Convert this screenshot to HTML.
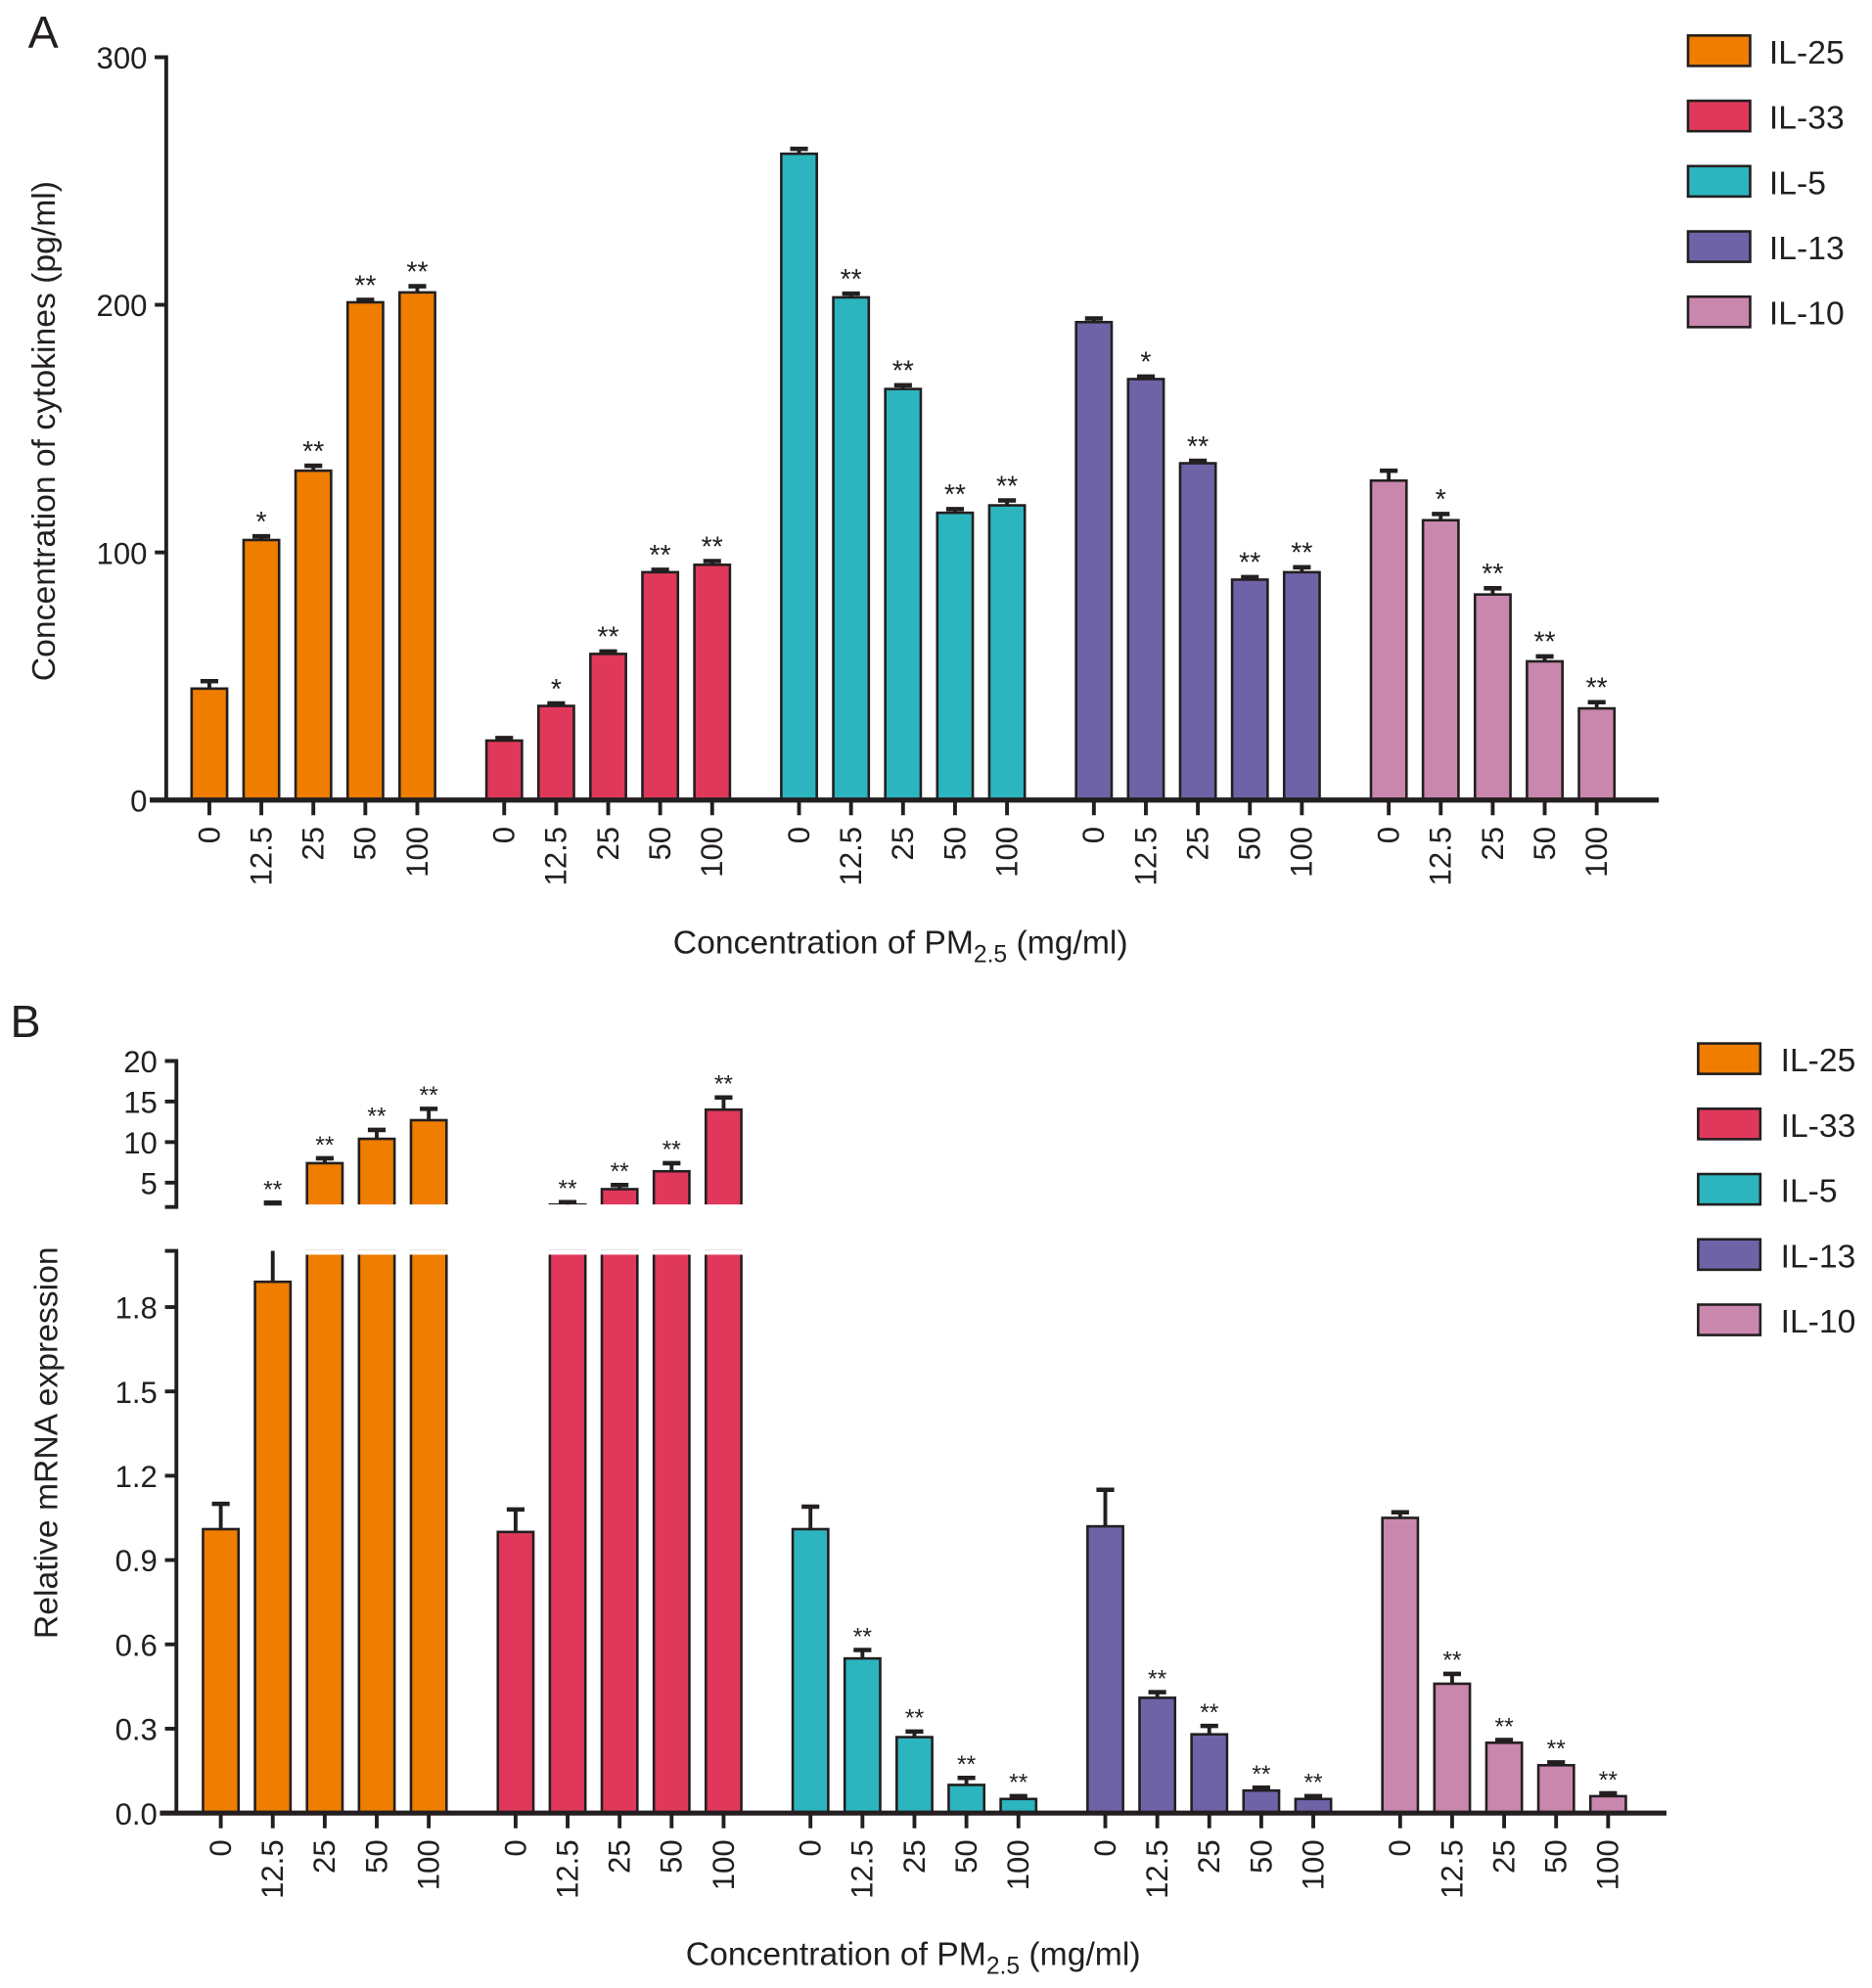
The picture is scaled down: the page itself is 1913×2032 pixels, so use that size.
<!DOCTYPE html>
<html><head><meta charset="utf-8"><style>
html,body{margin:0;padding:0;background:#fff}
svg{display:block}
text{font-family:"Liberation Sans",Arial,sans-serif;fill:#231f20}
</style></head><body>
<svg id="fig" width="1913" height="2032" viewBox="0 0 1476 1568" xmlns="http://www.w3.org/2000/svg"></svg>
<script>
const NS="http://www.w3.org/2000/svg";
const series=["IL-25","IL-33","IL-5","IL-13","IL-10"];
const colors=["#ee7d00","#e0385b","#2db5bf","#6f63a8","#c987ad"];
const doses=["0","12.5","25","50","100"];
// Panel A values (pg/ml)
const aIL25=[45,105,133,201,205];
const aIL33=[24,38,59,92,95];
const aIL5=[261,203,166,116,119];
const aIL13=[193,170,136,89,92];
const aIL10=[129,113,83,56,37];
const aErr25=[3,1.5,2,1,2.5];
const aErr33=[1,1,1,1,1.5];
const aErr5=[2,1.5,1.5,1.5,2];
const aErr13=[1.5,1,1,1,2];
const aErr10=[4,2.5,2.5,2,2.5];
const aStars25=["","*","**","**","**"];
const aStars33=["","*","**","**","**"];
const aStars5=["","**","**","**","**"];
const aStars13=["","*","**","**","**"];
const aStars10=["","*","**","**","**"];
const aTicks=[0,100,200,300];
// Panel B values (relative mRNA)
const bIL25=[1.01,1.89,7.4,10.4,12.7];
const bIL33=[1.0,2.3,4.2,6.4,14.0];
const bIL5=[1.01,0.55,0.27,0.10,0.05];
const bIL13=[1.02,0.41,0.28,0.08,0.05];
const bIL10=[1.05,0.46,0.25,0.17,0.06];
const bErr25=[0.09,0.6,0.6,1.1,1.4];
const bErr33=[0.08,0.3,0.5,1.0,1.5];
const bErr5=[0.08,0.03,0.02,0.025,0.01];
const bErr13=[0.13,0.02,0.03,0.01,0.01];
const bErr10=[0.02,0.035,0.01,0.01,0.01];
const bStars=["","**","**","**","**"];
const bTicksLow=["0.0","0.3","0.6","0.9","1.2","1.5","1.8"];
const bTicksHigh=[5,10,15,20];

const svg=document.getElementById('fig');
function el(tag,attrs,parent){const e=document.createElementNS(NS,tag);for(const k in attrs)e.setAttribute(k,attrs[k]);(parent||svg).appendChild(e);return e;}
function txt(s,attrs,parent){const t=el('text',attrs,parent);t.textContent=s;return t;}

function barX(g,i,x0){return x0+g*232.5+i*41;}

function drawPanelA(){
  const g0=el('g',{});
  
  
  const y=v=>631-v*1.953;
  const vals=[aIL25,aIL33,aIL5,aIL13,aIL10],errs=[aErr25,aErr33,aErr5,aErr13,aErr10],stars=[aStars25,aStars33,aStars5,aStars13,aStars10];
  const pl=txt('A',{x:22,y:38,'font-size':36},g0);
  
  for(let g=0;g<5;g++)for(let i=0;i<5;i++){
    const cx=barX(g,i,165),v=vals[g][i],e=errs[g][i];
    const r=el('rect',{x:cx-14,y:y(v),width:28,height:631-y(v),fill:colors[g],stroke:'#231f20','stroke-width':2},g0);
    
    
    el('line',{x1:cx,x2:cx,y1:y(v),y2:y(v+e),stroke:'#231f20','stroke-width':3},g0);
    el('line',{x1:cx-7,x2:cx+7,y1:y(v+e),y2:y(v+e),stroke:'#231f20','stroke-width':3.5},g0);
    if(stars[g][i]){const s=txt(stars[g][i],{x:cx,y:y(v+e)-4,'font-size':22,'text-anchor':'middle'},g0);
      }
    const lb=txt(doses[i],{x:0,y:0,'font-size':24,'text-anchor':'end',transform:`translate(${cx+8},652) rotate(-90)`},g0);
    
    el('line',{x1:cx,x2:cx,y1:631,y2:643,stroke:'#231f20','stroke-width':3},g0);
  }
  const ax=el('path',{d:`M122 ${y(300)} H131 V631`,fill:'none',stroke:'#231f20','stroke-width':3},g0);
  
  const xa=el('line',{x1:118,x2:1308,y1:631,y2:631,stroke:'#231f20','stroke-width':4},g0);
  
  aTicks.forEach(t=>{el('line',{x1:122,x2:131,y1:y(t),y2:y(t),stroke:'#231f20','stroke-width':3},g0);
    const tl=txt(String(t),{x:116,y:y(t)+9,'font-size':24,'text-anchor':'end'},g0);
    });
  const yt=txt('Concentration of cytokines (pg/ml)',{x:0,y:0,'font-size':26,'text-anchor':'middle',transform:'translate(43,340) rotate(-90)'},g0);
  
  const xt=el('text',{x:710,y:752,'font-size':26,'text-anchor':'middle'},g0);
  xt.innerHTML='Concentration of PM<tspan font-size="19" dy="7">2.5</tspan><tspan dy="-7"> (mg/ml)</tspan>';
  
  series.forEach((s,k)=>{const yy=28+k*51.5;
    const sw=el('rect',{x:1331,y:yy,width:49,height:24,fill:colors[k],stroke:'#231f20','stroke-width':2},g0);
    
    const lt=txt(s,{x:1395,y:yy+22,'font-size':26},g0);
    });
}

function drawPanelB(){
  const g0=el('g',{});
  
  
  const yl=v=>1430-v*221.7;
  const yh=v=>952-(v-2)*6.4;
  const cut1=yl(2), cut2=952;
  const vals=[bIL25,bIL33,bIL5,bIL13,bIL10],errs=[bErr25,bErr33,bErr5,bErr13,bErr10];
  const pl=txt('B',{x:8,y:818,'font-size':36},g0);
  
  for(let g=0;g<5;g++)for(let i=0;i<5;i++){
    const cx=barX(g,i,174),v=vals[g][i],e=errs[g][i];
    const st={fill:colors[g],stroke:'#231f20','stroke-width':2};
    let topY;
    if(v<=2){
      const r=el('rect',Object.assign({x:cx-14,y:yl(v),width:28,height:1430-yl(v)},st),g0);
      
      
      const te=v+e;
      if(te<=2){el('line',{x1:cx,x2:cx,y1:yl(v),y2:yl(te),stroke:'#231f20','stroke-width':3},g0);
        el('line',{x1:cx-7,x2:cx+7,y1:yl(te),y2:yl(te),stroke:'#231f20','stroke-width':3.5},g0);topY=yl(te);}
      else{el('line',{x1:cx,x2:cx,y1:yl(v),y2:cut1,stroke:'#231f20','stroke-width':3},g0);
        el('line',{x1:cx-7,x2:cx+7,y1:yh(te),y2:yh(te),stroke:'#231f20','stroke-width':4},g0);topY=yh(te);}
    } else {
      const r=el('rect',Object.assign({x:cx-14,y:cut1,width:28,height:1430-cut1},st),g0);
      
      
      el('rect',Object.assign({x:cx-14,y:yh(v),width:28,height:cut2-yh(v)},st),g0);
      el('rect',{x:cx-16,y:cut1-1,width:32,height:4,fill:'#fff'},g0);
      el('rect',{x:cx-16,y:cut2-2,width:32,height:4,fill:'#fff'},g0);
      const te=v+e;
      el('line',{x1:cx,x2:cx,y1:yh(v),y2:yh(te),stroke:'#231f20','stroke-width':3},g0);
      el('line',{x1:cx-7,x2:cx+7,y1:yh(te),y2:yh(te),stroke:'#231f20','stroke-width':3.5},g0);
      topY=yh(te);
    }
    if(bStars[i]){const s=txt(bStars[i],{x:cx,y:topY-4,'font-size':19,'text-anchor':'middle'},g0);
      }
    const lb=txt(doses[i],{x:0,y:0,'font-size':24,'text-anchor':'end',transform:`translate(${cx+8},1451) rotate(-90)`},g0);
    
    el('line',{x1:cx,x2:cx,y1:1430,y2:1442,stroke:'#231f20','stroke-width':3},g0);
  }
  const ax=el('path',{d:`M130 ${cut1} H139 V1430 M130 ${yh(20)} H139 V${cut2} H130`,fill:'none',stroke:'#231f20','stroke-width':3},g0);
  
  const xa=el('line',{x1:126,x2:1314,y1:1430,y2:1430,stroke:'#231f20','stroke-width':4},g0);
  
  bTicksLow.forEach(t=>{const yy=yl(parseFloat(t));el('line',{x1:130,x2:139,y1:yy,y2:yy,stroke:'#231f20','stroke-width':3},g0);
    const tl=txt(t,{x:124,y:yy+9,'font-size':24,'text-anchor':'end'},g0);
    });
  bTicksHigh.forEach(t=>{const yy=yh(t);el('line',{x1:130,x2:139,y1:yy,y2:yy,stroke:'#231f20','stroke-width':3},g0);
    const tl=txt(String(t),{x:124,y:yy+9,'font-size':24,'text-anchor':'end'},g0);
    });
  const yt=txt('Relative mRNA expression',{x:0,y:0,'font-size':26,'text-anchor':'middle',transform:'translate(45,1138) rotate(-90)'},g0);
  
  const xt=el('text',{x:720,y:1550,'font-size':26,'text-anchor':'middle'},g0);
  xt.innerHTML='Concentration of PM<tspan font-size="19" dy="7">2.5</tspan><tspan dy="-7"> (mg/ml)</tspan>';
  
  series.forEach((s,k)=>{const yy=823+k*51.5;
    const sw=el('rect',{x:1339,y:yy,width:49,height:24,fill:colors[k],stroke:'#231f20','stroke-width':2},g0);
    
    const lt=txt(s,{x:1404,y:yy+22,'font-size':26},g0);
    });
}
drawPanelA();
drawPanelB();
</script>
</body></html>
